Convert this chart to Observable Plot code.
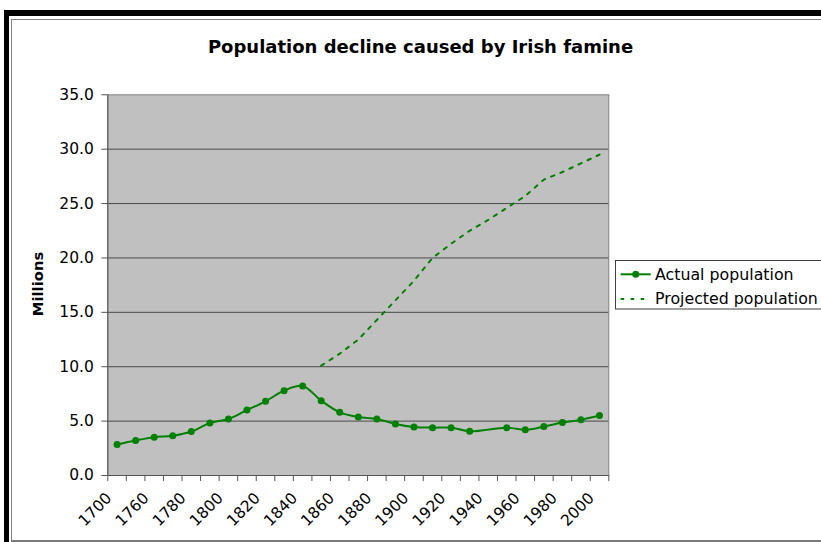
<!DOCTYPE html>
<html><head><meta charset="utf-8">
<script src="https://cdn.jsdelivr.net/npm/d3@7"></script>
<script src="https://cdn.jsdelivr.net/npm/@observablehq/plot@0.6"></script>
<style>
html,body{margin:0;padding:0;background:#fff;}
#wrap{position:relative;width:821px;height:542px;overflow:hidden;background:#fff;}
#chart{position:absolute;left:0;top:0;}
#overlay{position:absolute;left:0;top:0;pointer-events:none;}
</style></head><body>
<div id="wrap">
  <div id="chart"></div>
  <svg id="overlay" width="821" height="542" font-family="DejaVu Sans, sans-serif">
    <rect x="4" y="10" width="817" height="6" fill="#000"/>
    <rect x="4" y="10" width="5" height="532" fill="#000"/>
    <line x1="11" y1="19.5" x2="821" y2="19.5" stroke="#808080" stroke-width="1"/>
    <line x1="11.5" y1="19" x2="11.5" y2="542" stroke="#808080" stroke-width="1"/>
    <line x1="11" y1="541" x2="821" y2="541" stroke="#7a7a7a" stroke-width="2"/>
    <text id="title" x="420.5" y="53" text-anchor="middle" font-weight="bold" font-size="18" fill="#000"></text>
    <text id="ylabel" transform="translate(42.5,284) rotate(-90)" text-anchor="middle" font-weight="bold" font-size="14.8" fill="#000"></text>
    <g id="legend"></g>
  </svg>
</div>
<script>
// ---- data ----
const titleText = "Population decline caused by Irish famine";
const yLabel = "Millions";
const years = [1700,1750,1760,1770,1780,1790,1800,1810,1820,1830,1840,1850,1860,1870,1880,1890,1900,1910,1920,1930,1940,1950,1960,1970,1980,1990,2000];
const actual = [2.85,3.22,3.52,3.65,4.04,4.83,5.2,6.02,6.82,7.8,8.23,6.88,5.81,5.38,5.2,4.74,4.46,4.4,4.4,4.07,null,4.4,4.2,4.5,4.87,5.12,5.51];
const projected = [null,null,null,null,null,null,null,null,null,null,null,10.1,11.2,12.5,14.3,16.1,17.9,20.0,21.3,22.5,23.5,24.6,25.7,27.2,27.9,28.7,29.5];
const xTickLabels = ["1700","1760","1780","1800","1820","1840","1860","1880","1900","1920","1940","1960","1980","2000"];
const yTicks = [0,5,10,15,20,25,30,35];
const seriesNames = ["Actual population","Projected population"];
const green = "#008000";

const data = years.map((yr,i)=>({i, year:yr, actual:actual[i], projected:projected[i]}));
const labelIdx = xTickLabels.map(l => years.indexOf(+l));
const boundaries = d3.range(years.length + 1).map(k => k - 0.5);

const chart = Plot.plot({
  width: 821, height: 542,
  marginLeft: 107.3, marginRight: 212.7, marginTop: 94.3, marginBottom: 67,
  x: {type: "linear", domain: [-0.5, years.length - 0.5]},
  y: {domain: [0, 35]},
  style: {fontFamily: "DejaVu Sans, sans-serif", fontSize: "15.5px", color: "#000", background: "transparent", overflow: "visible"},
  marks: [
    Plot.frame({fill: "#c0c0c0", stroke: "#808080"}),
    Plot.gridY(yTicks.filter(t => t > 0 && t < 35), {stroke: "#4a4a4a", strokeOpacity: 1}),
    Plot.ruleX([-0.5], {stroke: "#555"}),
    Plot.ruleY([0], {stroke: "#555"}),
    Plot.axisY(yTicks, {tickFormat: d => d.toFixed(1), tickSize: 6, tickPadding: 8, label: null, stroke: "#555"}),
    Plot.axisX(boundaries, {tickSize: 6, tickFormat: () => "", label: null, stroke: "#555"}),
    Plot.axisX(labelIdx, {tickFormat: i => String(years[i]), tickRotate: -45, tickSize: 0, tickPadding: 20, dx: -8, label: null, fontSize: 15.5}),
    Plot.line(data, {x: "i", y: "projected", filter: d => d.projected != null, stroke: green, strokeWidth: 2, strokeDasharray: "3.5,6.5"}),
    Plot.line(data, {x: "i", y: "actual", filter: d => d.actual != null, curve: "catmull-rom", stroke: green, strokeWidth: 2}),
    Plot.dot(data, {x: "i", y: "actual", filter: d => d.actual != null, r: 3.5, fill: green, stroke: "none"})
  ]
});
document.getElementById("chart").appendChild(chart);

document.getElementById("title").textContent = titleText;
document.getElementById("ylabel").textContent = yLabel;

// legend
const ns = "http://www.w3.org/2000/svg";
const lg = document.getElementById("legend");
function el(tag, attrs, text){ const e = document.createElementNS(ns, tag); for (const k in attrs) e.setAttribute(k, attrs[k]); if (text) e.textContent = text; lg.appendChild(e); return e; }
el("rect", {x: 615.5, y: 260.5, width: 220, height: 48.5, fill: "#fff", stroke: "#404040", "stroke-width": 1});
el("line", {x1: 620.7, y1: 274.3, x2: 650.7, y2: 274.3, stroke: green, "stroke-width": 2});
el("circle", {cx: 635.7, cy: 274.3, r: 3.5, fill: green});
el("line", {x1: 620.7, y1: 299, x2: 650.7, y2: 299, stroke: green, "stroke-width": 2, "stroke-dasharray": "3.5,6.5"});
el("text", {x: 655, y: 279.5, "font-size": 15.8, fill: "#000"}, seriesNames[0]);
el("text", {x: 655, y: 303.5, "font-size": 15.8, fill: "#000"}, seriesNames[1]);
</script>
</body></html>
